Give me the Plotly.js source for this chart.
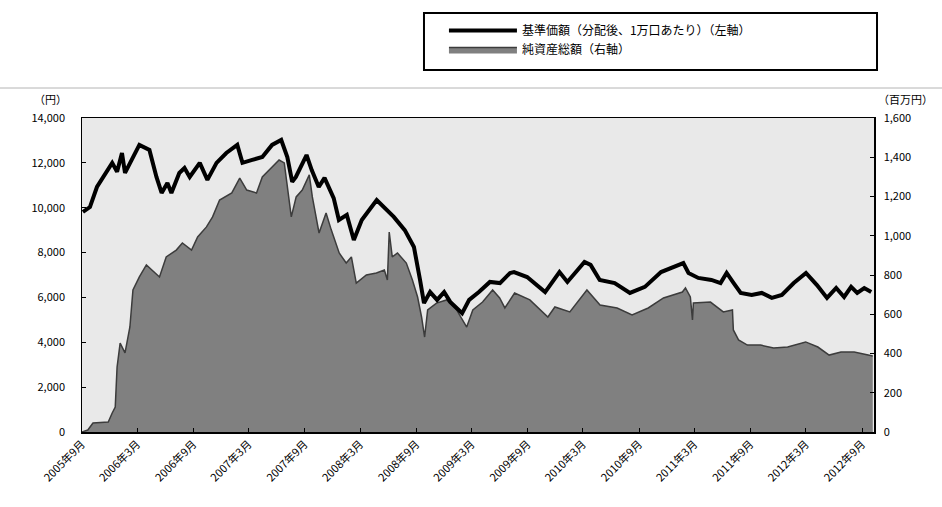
<!DOCTYPE html>
<html>
<head>
<meta charset="utf-8">
<script src="https://cdn.plot.ly/plotly-3.0.1.min.js"></script>
<style>
  html, body { margin: 0; padding: 0; background: #ffffff; }
  #chart { width: 942px; height: 507px; }
</style>
</head>
<body>
<div id="chart"></div>
<script>
// ==========================================================
// DATA
// ==========================================================

// 基準価額 (左軸, 円)
const navDates = [
  "2005-09-04","2005-09-27","2005-10-20","2005-11-16","2005-12-09","2005-12-25",
  "2006-01-10","2006-01-20","2006-02-05","2006-03-08","2006-04-10","2006-05-03",
  "2006-05-20","2006-06-08","2006-06-21","2006-07-17","2006-08-03","2006-08-20",
  "2006-09-22","2006-10-17","2006-11-16","2006-12-18","2007-01-23","2007-02-09",
  "2007-03-13","2007-04-15","2007-05-17","2007-06-16","2007-07-06","2007-07-22",
  "2007-08-03","2007-08-28","2007-09-07","2007-09-24","2007-10-17","2007-11-05",
  "2007-12-05","2007-12-22","2008-01-17","2008-02-09","2008-03-06","2008-04-24",
  "2008-05-17","2008-06-19","2008-07-25","2008-08-24","2008-09-13","2008-09-26",
  "2008-10-16","2008-11-08","2008-12-01","2008-12-21","2009-01-29","2009-02-21",
  "2009-03-25","2009-04-30","2009-06-02","2009-07-05","2009-07-18","2009-08-30",
  "2009-10-28","2009-12-14","2010-01-09","2010-03-06","2010-03-26","2010-04-25",
  "2010-06-13","2010-08-02","2010-09-20","2010-11-12","2011-01-24","2011-02-10",
  "2011-03-14","2011-04-26","2011-05-26","2011-06-15","2011-07-08","2011-07-31",
  "2011-09-05","2011-10-08","2011-11-10","2011-12-13","2012-01-21","2012-03-01",
  "2012-04-06","2012-05-09","2012-06-08","2012-07-04","2012-07-27","2012-08-16",
  "2012-09-08","2012-10-01"
];

const navValues = [
  9810,10030,10925,11550,12000,11600,
  12440,11550,12000,12800,12575,11370,
  10660,11100,10660,11550,11770,11370,
  12000,11240,12000,12440,12800,12000,
  12130,12260,12800,13020,12260,11150,
  11370,12130,12350,11680,10925,11330,
  10430,9450,9680,8560,9450,10345,
  10030,9590,9000,8250,6780,5750,
  6240,5890,6240,5800,5300,5890,
  6240,6690,6640,7090,7130,6910,
  6240,7130,6690,7580,7450,6780,
  6640,6200,6470,7130,7530,7090,
  6870,6780,6640,7090,6640,6200,
  6110,6200,5980,6110,6640,7090,
  6550,5980,6420,6020,6470,6200,
  6420,6240
];

// 純資産総額 (右軸, 百万円)
const assetDates = [
  "2005-09-01","2005-09-20","2005-10-07","2005-11-26","2005-12-09","2005-12-19",
  "2005-12-25","2006-01-04","2006-01-20","2006-02-05","2006-02-15","2006-03-08",
  "2006-03-31","2006-05-13","2006-06-04","2006-07-07","2006-07-27","2006-08-26",
  "2006-09-15","2006-10-14","2006-11-03","2006-11-26","2007-01-05","2007-01-31",
  "2007-02-23","2007-03-27","2007-04-15","2007-05-14","2007-06-09","2007-06-26",
  "2007-07-19","2007-08-04","2007-08-24","2007-09-16","2007-09-26","2007-10-18",
  "2007-11-10","2007-11-27","2007-12-23","2008-01-15","2008-02-01","2008-02-17",
  "2008-03-21","2008-04-23","2008-05-19","2008-05-29","2008-06-04","2008-06-14",
  "2008-07-01","2008-07-30","2008-08-19","2008-09-05","2008-09-18","2008-09-28",
  "2008-10-08","2008-11-06","2008-12-09","2009-01-11","2009-02-13","2009-03-05",
  "2009-04-06","2009-05-09","2009-06-01","2009-06-18","2009-07-20","2009-09-08",
  "2009-11-06","2009-11-29","2010-01-17","2010-03-14","2010-04-26","2010-06-21",
  "2010-08-09","2010-10-01","2010-11-20","2011-01-21","2011-01-31","2011-02-16",
  "2011-02-23","2011-02-26","2011-04-23","2011-06-04","2011-07-04","2011-07-07",
  "2011-07-24","2011-08-22","2011-10-04","2011-11-16","2012-01-01","2012-02-29",
  "2012-04-09","2012-05-16","2012-06-24","2012-08-06","2012-09-21","2012-10-06"
];

const assetValues = [
  0,10,46,51,97,127,
  331,453,403,535,724,790,
  851,790,892,927,963,927,
  994,1045,1096,1182,1218,1294,
  1233,1218,1300,1345,1386,1371,
  1096,1198,1233,1310,1198,1014,
  1116,1030,912,861,892,759,
  800,810,825,775,1019,892,
  912,861,775,688,586,484,
  622,657,673,622,535,622,
  662,724,683,632,708,673,
  586,637,612,724,647,632,
  596,632,683,713,734,688,
  571,657,662,612,622,520,
  469,443,443,428,433,459,
  433,392,408,408,392,387
];

// x axis ticks
const tickDates = [
  "2005-09-01","2006-03-01","2006-09-01","2007-03-01","2007-09-01",
  "2008-03-01","2008-09-01","2009-03-01","2009-09-01","2010-03-01",
  "2010-09-01","2011-03-01","2011-09-01","2012-03-01","2012-09-01"
];

const tickLabels = [
  "2005年9月","2006年3月","2006年9月","2007年3月","2007年9月",
  "2008年3月","2008年9月","2009年3月","2009年9月","2010年3月",
  "2010年9月","2011年3月","2011年9月","2012年3月","2012年9月"
];

const leftTicks  = [0,2000,4000,6000,8000,10000,12000,14000];
const rightTicks = [0,200,400,600,800,1000,1200,1400,1600];

const navName   = "基準価額（分配後、1万口あたり）（左軸）";
const assetName = "純資産総額（右軸）";


// ==========================================================
// CHART
// ==========================================================

const fontFamily = "'Noto Sans CJK JP', 'DejaVu Sans', sans-serif";

const traces = [

  // area first so that the line is drawn on top (line lives on overlaying axis)
  {
    x: assetDates,
    y: assetValues,
    type: "scatter",
    mode: "lines",
    name: assetName,
    fill: "tozeroy",
    fillcolor: "#808080",
    line: { color: "#3c3c3c", width: 1.5, shape: "linear" },
    yaxis: "y",
    legendrank: 2
  },

  {
    x: navDates,
    y: navValues,
    type: "scatter",
    mode: "lines",
    name: navName,
    line: { color: "#000000", width: 4 },
    yaxis: "y2",
    legendrank: 1
  }

];

const layout = {

  width: 942,
  height: 507,
  margin: { l: 82, r: 68, t: 118, b: 75 },
  paper_bgcolor: "#ffffff",
  plot_bgcolor: "#e9e9e9",
  font: { family: fontFamily, size: 11, color: "#000000" },
  showlegend: true,

  legend: {
    x: 0.457,
    y: 1.325,
    xanchor: "left",
    yanchor: "top",
    bgcolor: "rgba(0,0,0,0)",
    borderwidth: 0,
    itemwidth: 68,
    tracegroupgap: 0,
    font: { family: fontFamily, size: 12, color: "#000000" }
  },

  xaxis: {
    type: "date",
    range: ["2005-09-01", "2012-10-10"],
    tickmode: "array",
    tickvals: tickDates,
    ticktext: tickLabels,
    tickangle: -45,
    ticks: "inside",
    ticklen: 4,
    tickcolor: "#000000",
    showgrid: false,
    zeroline: false,
    showline: true,
    linecolor: "#000000",
    linewidth: 1.5,
    mirror: true,
    tickfont: { family: fontFamily, size: 11, color: "#000000" }
  },

  // right axis: 純資産総額
  yaxis: {
    side: "right",
    range: [0, 1600],
    tickmode: "array",
    tickvals: rightTicks,
    tickformat: ",d",
    ticks: "inside",
    ticklen: 4,
    tickcolor: "#000000",
    ticklabelstandoff: 6,
    showgrid: false,
    zeroline: false,
    showline: true,
    linecolor: "#000000",
    linewidth: 1.5,
    mirror: true,
    tickfont: { family: fontFamily, size: 11, color: "#000000" }
  },

  // left axis: 基準価額
  yaxis2: {
    side: "left",
    overlaying: "y",
    range: [0, 14000],
    tickmode: "array",
    tickvals: leftTicks,
    tickformat: ",d",
    ticks: "inside",
    ticklen: 4,
    tickcolor: "#000000",
    ticklabelstandoff: 16,
    showgrid: false,
    zeroline: false,
    showline: false,
    tickfont: { family: fontFamily, size: 11, color: "#000000" }
  },

  annotations: [
    {
      text: "（円）",
      xref: "paper", yref: "paper",
      x: -0.04, y: 1.03,
      xanchor: "center", yanchor: "bottom",
      showarrow: false,
      font: { family: fontFamily, size: 11, color: "#000000" }
    },
    {
      text: "（百万円）",
      xref: "paper", yref: "paper",
      x: 1.04, y: 1.03,
      xanchor: "center", yanchor: "bottom",
      showarrow: false,
      font: { family: fontFamily, size: 11, color: "#000000" }
    }
  ],

  shapes: [
    // thin rule across the page
    {
      type: "line",
      xref: "paper", yref: "paper",
      x0: -0.11, x1: 1.09,
      y0: 1.0955, y1: 1.0955,
      line: { color: "#b4b4b4", width: 1 }
    },
    // legend frame
    {
      type: "rect",
      xref: "paper", yref: "paper",
      x0: 0.4318, x1: 1.0038,
      y0: 1.1529, y1: 1.3344,
      line: { color: "#000000", width: 2 },
      fillcolor: "rgba(0,0,0,0)"
    }
  ]

};

const plotConfig = { displayModeBar: false, staticPlot: true };

Plotly.newPlot("chart", traces, layout, plotConfig);
</script>
</body>
</html>
